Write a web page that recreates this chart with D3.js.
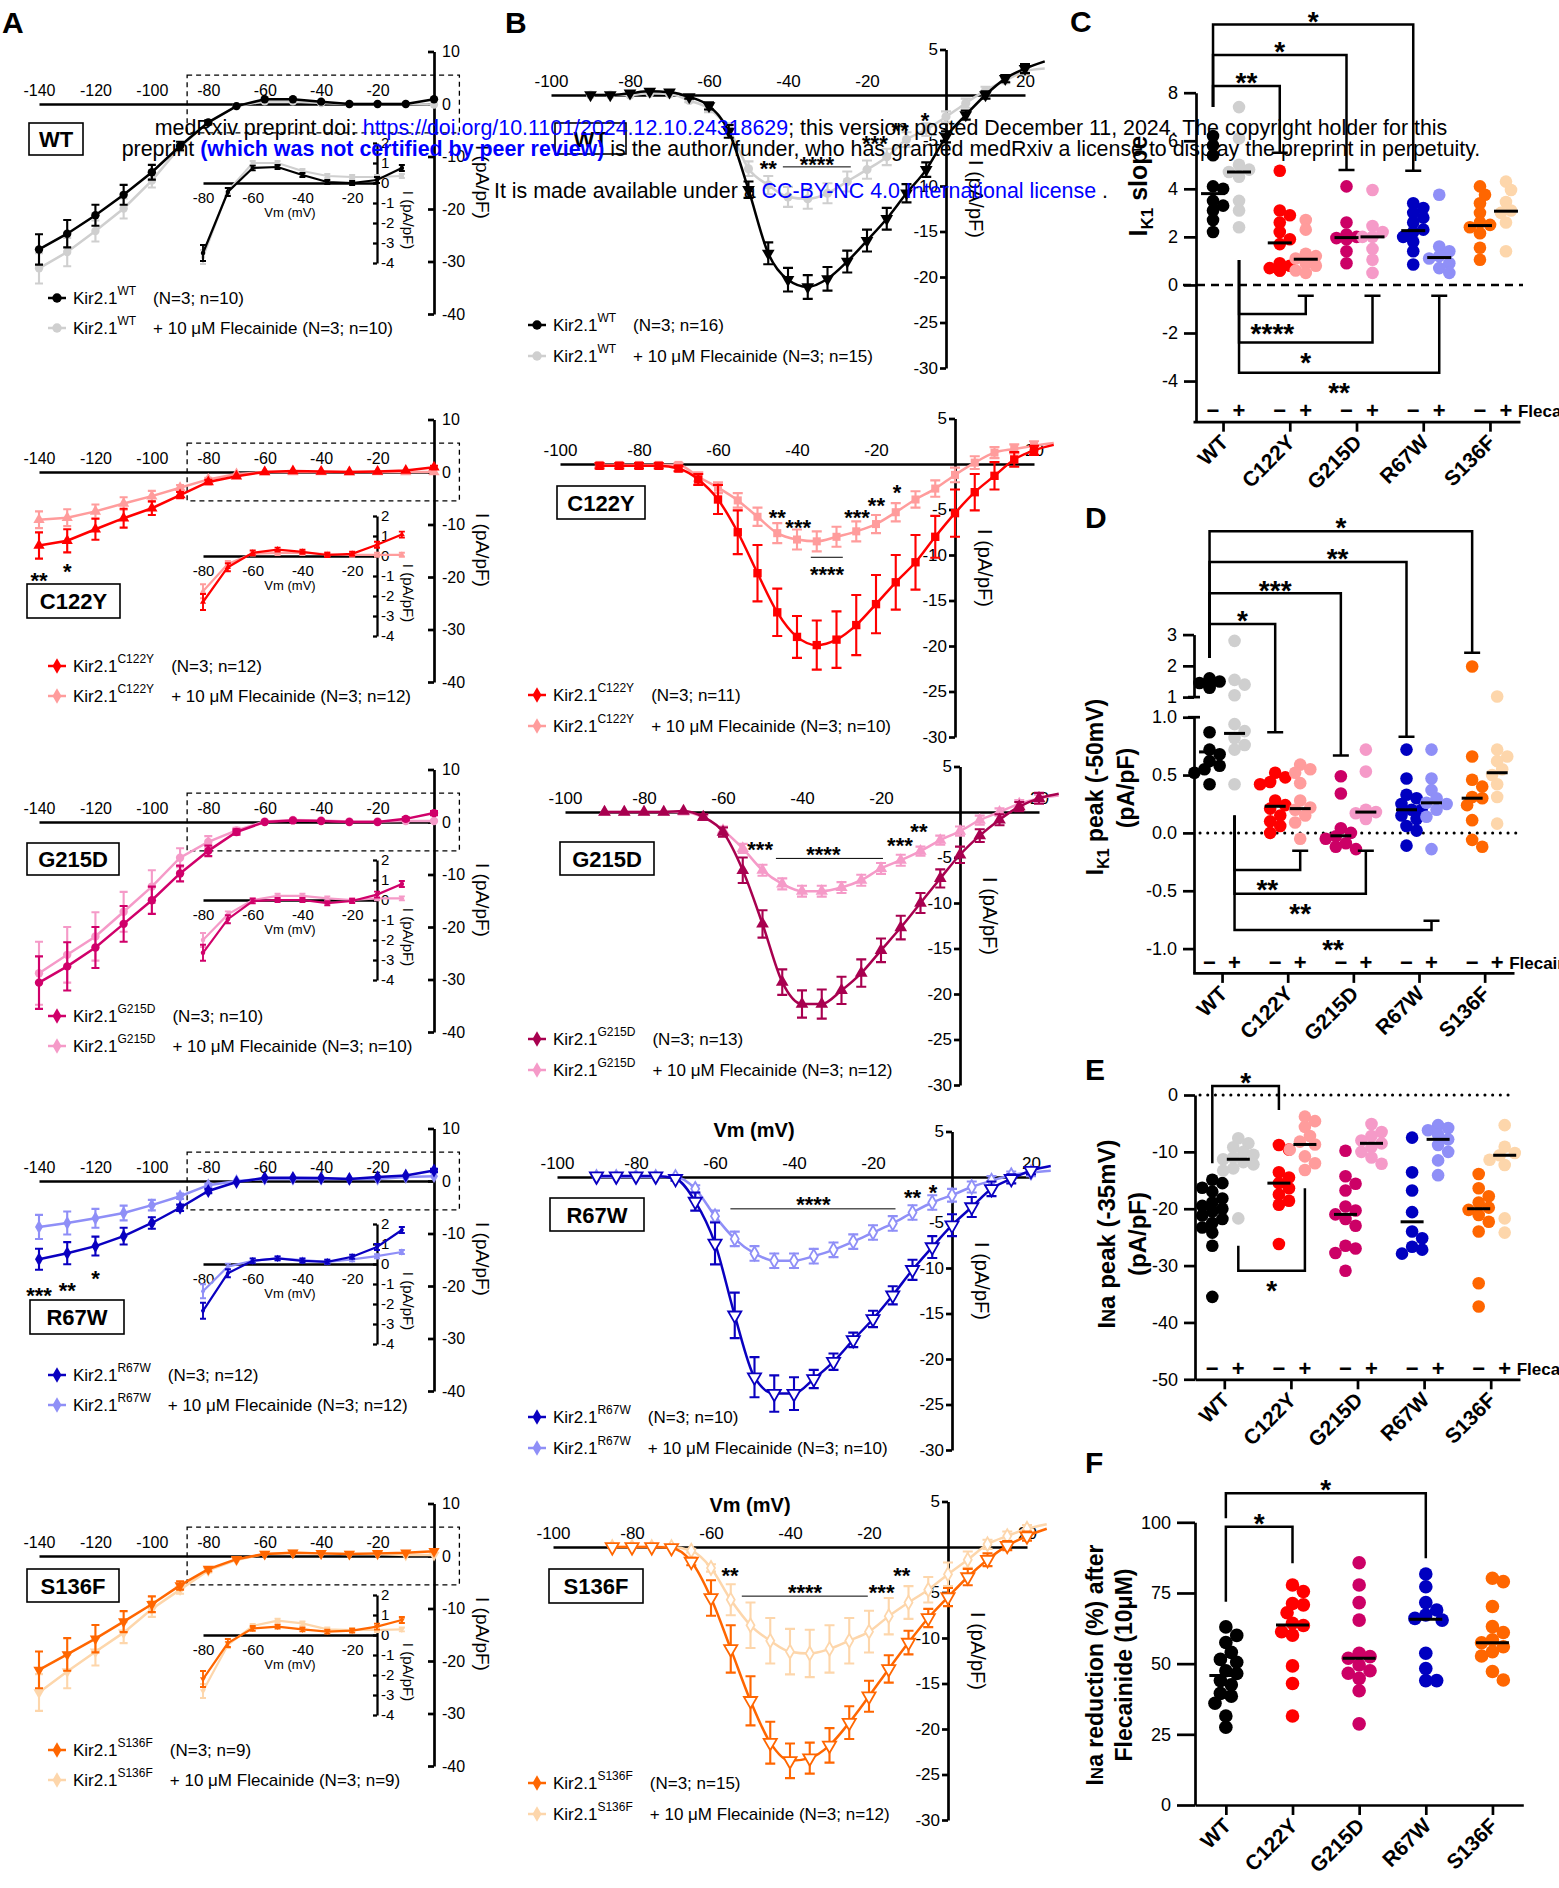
<!DOCTYPE html>
<html>
<head>
<meta charset="utf-8">
<script src="https://cdn.jsdelivr.net/npm/d3@7"></script>
<style>
  body { margin: 0; background: #fff; }
  svg { display: block; font-family: Arial, "Liberation Sans", sans-serif; }
</style>
</head>
<body>
<svg id="fig" width="1559" height="1888"></svg>
<script>
const FONT = 'Arial, "Liberation Sans", sans-serif';

// ---------- shared ----------
const mutants = ["WT", "C122Y", "G215D", "R67W", "S136F"];
const colMain  = ["#000000", "#ff0000", "#d0006a", "#0a00c0", "#ff6600"];
const colMainB = ["#000000", "#ff0000", "#a8004f", "#0a00c0", "#ff6600"];
const colFlec  = ["#cfcfcf", "#ff9c9c", "#f59ac8", "#8f8ff7", "#fdd6ab"];
const colDot   = ["#000000", "#ff0000", "#cc0066", "#0000c0", "#ff6600"];

// ---------- A: IK1 I-V (pA/pF), mean and SEM ----------
const vA = [-140, -130, -120, -110, -100, -90, -80, -70, -60, -50, -40, -30, -20, -10, 0];
const aWT   = [-27.7, -24.7, -21.2, -17.3, -13.0, -8.0, -3.5, -0.4, 0.9, 0.9, 0.45, 0, 0, 0, 0.9];
const aWTs  = [2.9, 2.6, 2.0, 1.9, 1.4, 0.8, 0.4, 0.2, 0.2, 0.2, 0.2, 0.1, 0.1, 0.1, 0.2];
const aWTf  = [-31.3, -28.2, -24.2, -19.9, -14.6, -8.2, -3.5, -0.4, 0.5, 0.5, 0.2, 0, 0, 0, -0.1];
const aWTfs = [2.9, 2.7, 2.0, 1.9, 1.3, 0.8, 0.4, 0.2, 0.2, 0.2, 0.2, 0.1, 0.1, 0.1, 0.2];
const aC    = [-14.0, -13.1, -10.9, -8.8, -6.9, -4.4, -1.9, -0.8, 0, 0.2, 0.1, 0, 0.1, 0.3, 0.9];
const aCs   = [2.5, 2.2, 2.0, 1.8, 1.3, 0.6, 0.4, 0.2, 0.1, 0.1, 0.1, 0.1, 0.1, 0.2, 0.3];
const aCf   = [-9.1, -8.7, -7.5, -6.0, -4.6, -3.0, -1.4, -0.4, 0, 0, 0, 0, 0, 0, 0];
const aCfs  = [1.6, 1.6, 1.3, 1.2, 1.0, 0.5, 0.3, 0.2, 0.1, 0.1, 0.1, 0.1, 0.1, 0.1, 0.1];
const aG    = [-30.6, -27.5, -23.9, -19.4, -14.9, -9.8, -5.5, -1.9, 0, 0.3, 0.2, 0, 0, 0.6, 1.7];
const aGs   = [5.0, 4.6, 3.9, 3.4, 2.6, 1.5, 1.0, 0.5, 0.2, 0.2, 0.2, 0.2, 0.2, 0.3, 0.4];
const aGf   = [-28.8, -25.3, -21.8, -17.1, -12.3, -6.8, -3.8, -1.6, 0.1, 0.4, 0.3, 0.1, 0.1, 0.2, 0.2];
const aGfs  = [6.0, 5.3, 4.6, 3.8, 3.1, 1.8, 1.1, 0.5, 0.2, 0.2, 0.2, 0.2, 0.2, 0.2, 0.2];
const aR    = [-14.9, -13.75, -12.4, -10.5, -8.0, -5.1, -1.9, -0.2, 0.6, 0.6, 0.55, 0.4, 0.75, 1.05, 2.0];
const aRs   = [2.0, 2.1, 1.8, 1.6, 1.1, 0.6, 0.4, 0.2, 0.1, 0.1, 0.1, 0.1, 0.1, 0.2, 0.3];
const aRf   = [-8.75, -8.0, -7.1, -6.1, -4.6, -2.9, -0.8, 0, 0.4, 0.4, 0.4, 0.4, 0.4, 0.75, 0.9];
const aRfs  = [2.3, 2.2, 1.8, 1.4, 1.0, 0.5, 0.3, 0.2, 0.1, 0.1, 0.1, 0.1, 0.1, 0.1, 0.2];
const aS    = [-21.7, -18.75, -15.75, -12.5, -9.2, -5.6, -2.5, -0.6, 0.4, 0.6, 0.5, 0.4, 0.5, 0.6, 0.9];
const aSs   = [3.5, 3.1, 2.6, 2.0, 1.5, 0.8, 0.4, 0.2, 0.1, 0.1, 0.1, 0.1, 0.1, 0.1, 0.2];
const aSf   = [-26, -22, -18.25, -14.6, -10.1, -6.4, -2.75, -0.75, 0.4, 0.6, 0.5, 0.4, 0.4, 0.2, 0.2];
const aSfs  = [3.5, 3.2, 2.6, 2.0, 1.5, 0.8, 0.4, 0.2, 0.1, 0.1, 0.1, 0.1, 0.1, 0.1, 0.2];

// insets (-80..0 mV)
const vIns = [-80, -70, -60, -50, -40, -30, -20, -10, 0];
const iWT  = [-3.5, -0.45, 0.75, 0.8, 0.4, 0.05, 0, 0.15, 0.75];
const iWTf = [-3.7, -0.4, 1.0, 1.0, 0.6, 0.35, 0.3, 0.3, 0.35];
const iC   = [-2.3, -0.56, 0.16, 0.32, 0.21, 0.05, 0.11, 0.56, 1.07];
const iCf  = [-1.76, -0.4, 0.12, 0.15, 0.15, 0.1, 0.06, 0.06, 0.06];
const iG   = [-2.64, -0.96, -0.05, 0, 0, -0.16, -0.05, 0.27, 0.8];
const iGf  = [-2.0, -0.72, 0, 0.21, 0.21, 0.08, 0, 0.08, 0.08];
const iR   = [-2.34, -0.46, 0.16, 0.28, 0.16, 0.11, 0.36, 0.85, 1.7];
const iRf  = [-1.36, -0.13, 0.16, 0.28, 0.2, 0.11, 0.23, 0.39, 0.6];
const iS   = [-2.2, -0.4, 0.33, 0.42, 0.28, 0.17, 0.22, 0.42, 0.75];
const iSf  = [-2.8, -0.5, 0.45, 0.72, 0.58, 0.28, 0.25, 0.25, 0.28];
const iSem  = [0.4, 0.2, 0.12, 0.1, 0.1, 0.1, 0.1, 0.15, 0.15];
const iSemF = [0.35, 0.15, 0.1, 0.1, 0.1, 0.1, 0.1, 0.1, 0.1];

// A significance (label, mV, pA/pF)
const starsA = [[], [["**", -140, -19.7], ["*", -130, -17.9]], [],
  [["***", -140, -20.8], ["**", -130, -19.8], ["*", -120, -17.5]], []];

// ---------- B: INa I-V ----------
const vB   = [-90, -85, -80, -75, -70, -65, -60, -55, -50, -45, -40, -35, -30, -25, -20, -15, -10, -5, 0, 5, 10, 15, 20];
const vB85 = [-85, -80, -75, -70, -65, -60, -55, -50, -45, -40, -35, -30, -25, -20, -15, -10, -5, 0, 5, 10, 15, 20];
const bWT   = [0, 0, 0.2, 0.4, 0.3, -0.2, -1.2, -4.0, -10.4, -17.4, -20.3, -21.1, -20.2, -18.3, -16.0, -13.6, -10.8, -8.2, -4.6, -2.2, 0, 1.8, 2.9];
const bWTs  = [0.1, 0.1, 0.1, 0.1, 0.1, 0.2, 0.4, 0.7, 0.9, 1.2, 1.3, 1.3, 1.3, 1.2, 1.2, 1.2, 1.0, 0.8, 0.6, 0.5, 0.4, 0.4, 0.5];
const bWTf  = [0, 0, 0, 0.2, 0.1, -0.6, -1.5, -3.7, -8.1, -9.9, -11.2, -11.4, -10.8, -9.5, -8.2, -6.8, -4.9, -3.8, -2.4, -0.9, 0.5, 1.6, 2.6];
const bWTfs = [0.1, 0.1, 0.1, 0.1, 0.1, 0.2, 0.4, 0.6, 0.8, 1.0, 1.1, 1.1, 1.1, 1.1, 1.0, 0.9, 0.8, 0.7, 0.6, 0.5, 0.4, 0.3, 0.3];
const bC    = [-0.2, -0.2, -0.2, -0.2, -0.5, -1.7, -3.9, -7.5, -12.0, -16.3, -19.0, -19.9, -19.3, -17.7, -15.4, -13.0, -10.8, -8.0, -5.4, -3.1, -1.3, 0.5, 1.5];
const bCs   = [0.3, 0.3, 0.3, 0.3, 0.3, 0.6, 1.6, 2.4, 3.1, 2.6, 2.3, 2.7, 3.1, 3.3, 3.2, 3.0, 3.0, 2.3, 2.6, 2.0, 1.5, 0.8, 0.5];
const bCf   = [-0.1, -0.1, -0.1, -0.1, -0.1, -1.4, -2.6, -4.0, -5.8, -7.6, -8.3, -8.5, -8.0, -7.4, -6.6, -5.3, -3.9, -2.7, -1.2, 0.15, 1.25, 1.65, 2.0];
const bCfs  = [0.2, 0.2, 0.2, 0.2, 0.2, 0.5, 0.6, 0.8, 1.0, 1.1, 1.1, 1.1, 1.1, 1.1, 1.0, 1.0, 0.9, 0.9, 0.8, 0.7, 0.6, 0.5, 0.5];
const bG    = [0, 0, 0, 0, 0.1, -0.55, -2.2, -6.4, -12.3, -18.7, -21.1, -21.1, -19.6, -17.7, -15.2, -12.7, -10.0, -7.3, -4.7, -2.6, -0.85, 0.6, 1.5];
const bGs   = [0.1, 0.1, 0.1, 0.1, 0.1, 0.3, 0.5, 1.4, 1.5, 1.4, 1.5, 1.6, 1.5, 1.5, 1.3, 1.3, 1.1, 1.0, 0.9, 0.7, 0.6, 0.5, 0.6];
const bGf   = [0, 0, 0, 0, 0, -0.6, -2.0, -4.0, -6.4, -7.9, -8.7, -8.7, -8.3, -7.5, -6.2, -5.3, -4.3, -3.1, -2.1, -0.9, 0, 0.9, 1.5];
const bGfs  = [0.1, 0.1, 0.1, 0.1, 0.1, 0.2, 0.4, 0.5, 0.6, 0.6, 0.6, 0.6, 0.6, 0.6, 0.6, 0.6, 0.5, 0.5, 0.5, 0.5, 0.4, 0.4, 0.4];
const bR    = [0.1, 0.1, 0.1, 0.1, -0.2, -2.7, -7.3, -15.2, -22.0, -23.8, -23.8, -22.2, -20.3, -17.9, -15.6, -13.0, -10.2, -7.7, -5.3, -3.3, -1.3, -0.2, 0.7];
const bRs   = [0.1, 0.1, 0.1, 0.1, 0.2, 1.0, 2.3, 2.5, 2.2, 2.0, 1.8, 1.0, 0.9, 0.8, 0.9, 1.0, 1.1, 1.2, 1.2, 1.1, 0.8, 0.5, 0.4];
const bRf   = [0, 0, 0, 0, 0, -1.3, -4.3, -6.8, -8.4, -9.2, -9.2, -8.7, -8.0, -7.1, -6.1, -5.1, -3.9, -2.8, -2.0, -1.1, -0.4, 0.2, 0.5];
const bRfs  = [0.1, 0.1, 0.1, 0.1, 0.1, 0.4, 0.6, 0.8, 0.8, 0.8, 0.8, 0.8, 0.8, 0.8, 0.8, 0.8, 0.8, 0.8, 0.7, 0.6, 0.5, 0.4, 0.4];
const bS    = [0, 0, 0, -0.1, -1.6, -5.6, -11.2, -16.9, -21.5, -23.5, -23.2, -21.8, -19.3, -16.4, -13.4, -10.5, -7.8, -5.5, -3.3, -1.4, 0.15, 1.2];
const bSs   = [0.1, 0.1, 0.1, 0.1, 0.4, 1.95, 2.6, 2.7, 2.3, 1.9, 1.7, 1.9, 1.8, 1.7, 1.5, 1.3, 1.0, 1.0, 0.9, 0.7, 0.5, 0.5];
const bSf   = [0, 0, 0, 0, -0.4, -2.3, -5.8, -8.6, -10.3, -11.5, -11.7, -11.2, -10.3, -9.3, -7.6, -6.1, -4.7, -3.0, -1.4, 0.3, 1.2, 2.0];
const bSfs  = [0.1, 0.1, 0.1, 0.1, 0.2, 0.4, 1.7, 2.5, 2.5, 2.5, 2.6, 2.6, 2.5, 2.3, 2.0, 1.8, 1.4, 1.3, 0.9, 0.5, 0.5, 0.4];
const bEnd  = [[3.7, 2.9], [2.1, 2.3], [2.0, 1.8], [1.2, 0.7], [2.0, 2.5]]; // fitted curve at +25 mV

// B significance: [label, mV, pA/pF] and bar [mV1, mV2, pA/pF]
const starsB = [
  [["**", -45, -7.5], ["****", -32.7, -7.1], ["***", -18, -4.7], ["**", -11.6, -3.3], ["*", -5.3, -2.2]],
  [["**", -45, -5.35], ["***", -39.7, -6.45], ["****", -32.4, -11.6], ["***", -24.8, -5.35], ["**", -19.9, -3.96], ["*", -14.7, -2.56]],
  [["***", -50.6, -3.5], ["****", -34.6, -4.1], ["***", -15.2, -3.1], ["**", -10.4, -1.6]],
  [["****", -35.1, -2.4], ["**", -10, -1.7], ["*", -4.8, -1.1]],
  [["**", -55.2, -2.6], ["****", -36.2, -4.4], ["***", -16.8, -4.4], ["**", -11.7, -2.6]]];
const barsB = [[-41.3, -24.1, -7.9], [-36.5, -28.4, -10.25], [-46.6, -19.5, -5.1], [-56.1, -14.3, -3.5], [-52.2, -20.3, -5.4]];

const nA = [[10, 10], [12, 12], [10, 10], [12, 12], [9, 9]];
const nB = [[16, 15], [11, 10], [13, 12], [10, 10], [15, 12]];

// ---------- C: IK1 slope ----------
const cNo = [
  [6.2, 5.8, 5.4, 4.1, 4.0, 3.5, 3.3, 3.1, 2.7, 2.2],
  [4.75, 3.1, 2.9, 2.6, 2.2, 1.9, 1.7, 0.9, 0.8, 0.7, 0.6, 0.6],
  [4.1, 2.6, 2.1, 2.0, 1.95, 1.9, 1.4, 0.9],
  [3.4, 3.2, 3.0, 2.8, 2.6, 2.3, 2.2, 2.0, 1.8, 1.4, 0.85],
  [4.1, 3.75, 3.4, 3.0, 2.6, 2.5, 2.4, 2.15, 1.55, 1.05]];
const cFl = [
  [7.4, 6.1, 5.0, 4.8, 4.7, 4.5, 3.5, 3.1, 2.4],
  [2.7, 2.3, 1.3, 1.2, 1.1, 1.05, 0.9, 0.8, 0.6, 0.5],
  [3.95, 2.45, 2.2, 2.0, 2.0, 1.5, 1.05, 0.5],
  [3.75, 1.6, 1.4, 1.2, 1.1, 0.9, 0.7, 0.5],
  [4.3, 3.95, 3.45, 3.1, 3.0, 2.6, 1.4]];
const cMedNo = [3.8, 1.75, 1.97, 2.26, 2.47];
const cMedFl = [4.7, 1.07, 2.0, 1.14, 3.07];
const cBr = [
  { a: [0, -1], b: [3, -1], ya: 7.41, lvl: 10.84, yb: 4.75, s: "*" },
  { a: [0, -1], b: [2, -1], ya: 7.41, lvl: 9.57, yb: 4.78, s: "*" },
  { a: [0, -1], b: [1, -1], ya: 7.41, lvl: 8.28, yb: 5.5, s: "**" },
  { a: [0, 1], b: [1, 1], ya: 1.04, lvl: -1.21, yb: -0.45, s: "****" },
  { a: [0, 1], b: [2, 1], ya: 1.04, lvl: -2.4, yb: -0.45, s: "*" },
  { a: [0, 1], b: [3, 1], ya: 1.04, lvl: -3.65, yb: -0.45, s: "**" }];

// ---------- D: IK1 peak at -50 mV ----------
const dNo = [
  [1.6, 1.5, 1.45, 1.35, 1.3, 0.87, 0.72, 0.68, 0.62, 0.58, 0.55, 0.52, 0.42],
  [0.52, 0.48, 0.44, 0.42, 0.28, 0.24, 0.21, 0.15, 0.1, 0.06, 0.0],
  [0.49, 0.34, 0.04, 0.0, -0.03, -0.05, -0.09, -0.12, -0.14],
  [0.72, 0.47, 0.33, 0.3, 0.25, 0.2, 0.2, 0.15, 0.12, 0.06, 0.02, -0.11],
  [1.98, 0.66, 0.46, 0.4, 0.31, 0.3, 0.24, 0.11, -0.06, -0.12]];
const dFl = [
  [2.8, 1.55, 1.4, 1.06, 0.94, 0.88, 0.82, 0.76, 0.72, 0.42],
  [0.59, 0.55, 0.52, 0.43, 0.28, 0.22, 0.2, 0.15, 0.09, -0.05],
  [0.72, 0.53, 0.2, 0.18, 0.17, 0.14, 0.12],
  [0.72, 0.47, 0.37, 0.3, 0.26, 0.25, 0.2, 0.14, -0.14],
  [1.02, 0.72, 0.66, 0.62, 0.55, 0.5, 0.42, 0.31, 0.08]];
const dMedNo = [0.70, 0.23, -0.025, 0.2, 0.3];
const dMedFl = [0.86, 0.21, 0.18, 0.26, 0.52];
const dBr = [
  { a: [0, -1], b: [4, -1], ya: 2.25, lvl: 6.31, yb: 2.42, s: "*" },
  { a: [0, -1], b: [3, -1], ya: 2.25, lvl: 5.32, yb: 0.83, s: "**", t: 0.65 },
  { a: [0, -1], b: [2, -1], ya: 2.25, lvl: 4.32, yb: 0.67, s: "***" },
  { a: [0, -1], b: [1, -1], ya: 2.25, lvl: 3.34, yb: 0.87, s: "*" },
  { a: [0, 1], b: [1, 1], ya: 0.15, lvl: -0.32, yb: -0.155, s: "**" },
  { a: [0, 1], b: [2, 1], ya: 0.15, lvl: -0.525, yb: -0.155, s: "**" },
  { a: [0, 1], b: [3, 1], ya: 0.15, lvl: -0.84, yb: -0.76, s: "**" }];

// ---------- E: INa peak at -35 mV ----------
const eNo = [
  [-14.9, -15.5, -16.3, -17.0, -18.2, -18.9, -19.5, -20.0, -20.5, -21.2, -21.8, -22.5, -23.3, -24.2, -26.5, -35.5],
  [-8.8, -9.6, -13.6, -14.5, -15.5, -16.4, -17.5, -18.6, -19.3, -26.2],
  [-9.8, -14.3, -15.6, -16.8, -19.6, -20.3, -21.0, -21.8, -23.0, -26.5, -27.0, -27.8, -30.9],
  [-7.5, -13.6, -16.8, -20.6, -24.0, -25.2, -26.7, -27.2, -27.9],
  [-13.9, -16.4, -17.8, -18.9, -19.8, -20.2, -21.1, -22.3, -24.0, -33.1, -37.2]];
const eFl = [
  [-7.6, -8.5, -9.2, -10.0, -10.5, -11.0, -11.3, -11.8, -12.2, -12.9, -13.3, -21.7],
  [-3.8, -4.6, -5.6, -7.2, -8.2, -8.7, -9.6, -10.8, -12.0, -13.2],
  [-5.1, -6.5, -7.2, -8.0, -8.5, -9.1, -10.0, -11.0, -12.1],
  [-5.3, -5.8, -6.2, -7.0, -7.8, -8.8, -10.0, -11.5, -14.1],
  [-5.3, -9.1, -10.2, -10.6, -11.4, -12.3, -21.7, -24.2]];
const eMedNo = [-20.0, -15.5, -21.0, -22.3, -20.0];
const eMedFl = [-11.3, -8.7, -8.5, -7.8, -10.6];
const eBr = [
  { a: [0, -1], b: [1, -1], ya: -12, lvl: 1.58, yb: -2.64, s: "*" },
  { a: [0, 1], b: [1, 1], ya: -26.5, lvl: -30.9, yb: -16.4, s: "*" }];

// ---------- F: INa reduction (%) ----------
const fRed = [
  [63, 60, 57.5, 54, 51.5, 50.5, 47.5, 46.5, 44, 42.5, 39.5, 38.5, 36, 31.5, 27.5],
  [77.8, 75.5, 71.3, 70.8, 68, 64.3, 63.5, 61.3, 60.1, 49.2, 43, 31.5],
  [85.7, 77.8, 71.6, 65.4, 53.7, 52.5, 51.9, 49.5, 47.5, 46.6, 44.8, 40.4, 28.7],
  [81.7, 77.2, 71.6, 69, 67.2, 66, 65.4, 53.7, 48.3, 44.0, 44.0],
  [80.2, 79, 70.2, 63.1, 61, 58.4, 57.4, 56, 54.2, 52.7, 47.2, 44.2]];
const fMed = [45.8, 63.7, 51.9, 65.7, 57.4];
const fBr = [
  { a: [0, 0], b: [1, 0], ya: 71.9, lvl: 98.4, yb: 85.5, s: "*" },
  { a: [0, 0], b: [3, 0], ya: 101.4, lvl: 110.3, yb: 87.3, s: "*" }];

// ---------- layout ----------
const rowA = [104, 472, 822, 1181, 1556];
const rowIns = [183, 556, 900, 1264, 1635];
const rowB = [95, 464, 812, 1177, 1547];
const axB = [946, 955, 960, 952, 948];
const boxA = [[29, 123, 54, 32], [27, 584, 93, 34], [27, 843, 92, 32], [30, 1300, 94, 34], [27, 1569, 92, 33]];
const boxB = [[555, 123, 71, 31], [557, 486, 88, 33], [560, 842, 94, 33], [550, 1198, 94, 33], [549, 1569, 94, 34]];
const legB = [230, 231, 227, 240, 236];
const vmTitleB = [null, null, null, 40, 35];

const svg = d3.select("#fig");
const SYM = { circle: d3.symbolCircle, tri: d3.symbolTriangle, down: d3.symbolTriangle, square: d3.symbolSquare, diamond: d3.symbolDiamond };

function styleAxis(a, fs, w) {
  a.attr("font-family", FONT).attr("font-size", fs);
  a.selectAll("path, line").attr("stroke", "#000").attr("stroke-width", w || 2.7);
  a.selectAll("text").attr("fill", "#000");
}
function star(g, cx, cy, s, fs) {
  g.append("text").attr("x", cx).attr("y", cy + fs * 0.58).attr("text-anchor", "middle")
    .attr("font-size", fs).attr("font-weight", "bold").text(s);
}
function series(g, xs, vals, sems, x, y, col, shape, size, lw, cap, open, curve, endPt) {
  const pts = xs.map((v, k) => [x(v), y(vals[k])]);
  if (endPt) pts.push([x(endPt[0]), y(endPt[1])]);
  g.append("path").attr("d", d3.line().curve(curve || d3.curveLinear)(pts))
    .attr("fill", "none").attr("stroke", col).attr("stroke-width", lw);
  xs.forEach((v, k) => {
    const y1 = y(vals[k] + sems[k]), y2 = y(vals[k] - sems[k]), xx = x(v);
    if (Math.abs(y2 - y1) < 3) return;
    g.append("path").attr("d", `M${xx},${y1}V${y2}M${xx - cap},${y1}H${xx + cap}M${xx - cap},${y2}H${xx + cap}`)
      .attr("fill", "none").attr("stroke", col).attr("stroke-width", lw * 0.85);
  });
  const sym = d3.symbol().type(SYM[shape]).size(size);
  xs.forEach((v, k) => {
    g.append("path").attr("d", sym())
      .attr("transform", `translate(${x(v)},${y(vals[k])})${shape === "down" ? " rotate(180)" : ""}`)
      .attr("fill", open ? "#fff" : col).attr("stroke", col).attr("stroke-width", open ? 1.8 : 0);
  });
}
function legendRow(g, x, y, col, shape, name, rest, dx) {
  g.append("line").attr("x1", x - 9).attr("x2", x + 9).attr("y1", y).attr("y2", y).attr("stroke", col).attr("stroke-width", 2.5);
  g.append("path").attr("d", d3.symbol().type(SYM[shape]).size(70)()).attr("transform", `translate(${x},${y})`).attr("fill", col);
  const t = g.append("text").attr("x", x + 16).attr("y", y + 6).attr("font-size", 17);
  t.append("tspan").text("Kir2.1");
  t.append("tspan").attr("dy", -9).attr("font-size", 12).text(name);
  t.append("tspan").attr("dy", 9).attr("dx", dx).text(rest);
}
function box(g, r, s) {
  g.append("rect").attr("x", r[0]).attr("y", r[1]).attr("width", r[2]).attr("height", r[3])
    .attr("fill", "none").attr("stroke", "#000").attr("stroke-width", 1.6);
  g.append("text").attr("x", r[0] + r[2] / 2).attr("y", r[1] + r[3] / 2 + 8).attr("text-anchor", "middle")
    .attr("font-size", 22).attr("font-weight", "bold").text(s);
}
function yLabelRot(g, x, y, deg, s, fs, bold) {
  return g.append("text").attr("x", x).attr("y", y).attr("text-anchor", "middle").attr("font-size", fs)
    .attr("font-weight", bold ? "bold" : null)
    .attr("transform", `rotate(${deg},${x},${y})`).text(s);
}

// ---------- panel A ----------
const aMain = [aWT, aC, aG, aR, aS], aMainS = [aWTs, aCs, aGs, aRs, aSs];
const aFl = [aWTf, aCf, aGf, aRf, aSf], aFlS = [aWTfs, aCfs, aGfs, aRfs, aSfs];
const iMain = [iWT, iC, iG, iR, iS], iFl = [iWTf, iCf, iGf, iRf, iSf];
const shapeA = ["circle", "tri", "circle", "diamond", "down"];

mutants.forEach((m, i) => {
  const g = svg.append("g");
  const y0 = rowA[i];
  const x = d3.scaleLinear().domain([-140, 0]).range([39, 434]);
  const y = d3.scaleLinear().domain([10, -40]).range([y0 - 52.5, y0 + 210]);

  g.append("rect").attr("x", x(-87.5)).attr("y", y(5.5)).attr("width", x(9) - x(-87.5)).attr("height", y(-5.5) - y(5.5))
    .attr("fill", "none").attr("stroke", "#000").attr("stroke-width", 1.3).attr("stroke-dasharray", "5,4");

  const xa = g.append("g").attr("transform", `translate(0,${y(0)})`)
    .call(d3.axisTop(x).tickValues([-140, -120, -100, -80, -60, -40, -20]).tickFormat(d => String(d))
      .tickSize(0).tickSizeOuter(0).tickPadding(8));
  styleAxis(xa, 16);
  const ya = g.append("g").attr("transform", `translate(${x(0)},0)`)
    .call(d3.axisRight(y).tickValues([10, 0, -10, -20, -30, -40]).tickFormat(d => String(d))
      .tickSize(-6).tickSizeOuter(0).tickPadding(8));
  styleAxis(ya, 16);
  yLabelRot(g, 476, y0 + 78, 90, "I (pA/pF)", 19);

  series(g, vA, aFl[i], aFlS[i], x, y, colFlec[i], shapeA[i], 55, 2.5, 4, false);
  series(g, vA, aMain[i], aMainS[i], x, y, colMain[i], shapeA[i], 55, 2.5, 4, false);

  starsA[i].forEach(s => star(g, x(s[1]), y(s[2]), s[0], 22));

  // inset
  const iy0 = rowIns[i];
  const xi = d3.scaleLinear().domain([-80, -10]).range([203, 377]);
  const yi = d3.scaleLinear().domain([2, -4]).range([iy0 - 40, iy0 + 80]);
  const ixa = g.append("g").attr("transform", `translate(0,${iy0})`)
    .call(d3.axisBottom(xi).tickValues([-80, -60, -40, -20]).tickFormat(d => String(d)).tickSize(0).tickSizeOuter(0).tickPadding(9));
  styleAxis(ixa, 15, 2.3);
  const iya = g.append("g").attr("transform", `translate(${xi(-10)},0)`)
    .call(d3.axisRight(yi).tickValues([2, 1, 0, -1, -2, -3, -4]).tickFormat(d => String(d)).tickSize(-4).tickSizeOuter(0).tickPadding(4));
  styleAxis(iya, 15, 2.3);
  g.append("text").attr("x", xi(-45)).attr("y", iy0 + 34).attr("text-anchor", "middle").attr("font-size", 13).text("Vm (mV)");
  yLabelRot(g, xi(-10) + 26, iy0 + 37, 90, "I (pA/pF)", 15);
  series(g, vIns, iFl[i], iSemF, xi, yi, colFlec[i], shapeA[i], 16, 2.2, 3, false);
  series(g, vIns, iMain[i], iSem, xi, yi, colMain[i], shapeA[i], 16, 2.2, 3, false);

  box(g, boxA[i], m);
  legendRow(g, 57, y0 + 194, colMain[i], i === 0 ? "circle" : "diamond", m, `(N=3; n=${nA[i][0]})`, 17);
  legendRow(g, 57, y0 + 224, colFlec[i], i === 0 ? "circle" : "diamond", m, `+ 10 μM Flecainide (N=3; n=${nA[i][1]})`, 17);
});

// ---------- panel B ----------
const bMain = [bWT, bC, bG, bR, bS], bMainS = [bWTs, bCs, bGs, bRs, bSs];
const bFl = [bWTf, bCf, bGf, bRf, bSf], bFlS = [bWTfs, bCfs, bGfs, bRfs, bSfs];
const shapeB = ["down", "square", "tri", "down", "down"];
const shapeBf = ["circle", "square", "tri", "diamond", "diamond"];
const openB = [false, false, false, true, true];

mutants.forEach((m, i) => {
  const g = svg.append("g");
  const y0 = rowB[i], ax = axB[i];
  const x = d3.scaleLinear().domain([-100, 20]).range([ax - 395, ax + 79]);
  const y = d3.scaleLinear().domain([5, -30]).range([y0 - 45.5, y0 + 273]);
  const volts = i === 4 ? vB85 : vB;

  const xa = g.append("g").attr("transform", `translate(0,${y(0)})`)
    .call(d3.axisTop(x).tickValues([-100, -80, -60, -40, -20, 20]).tickFormat(d => String(d)).tickSize(0).tickSizeOuter(0).tickPadding(8));
  styleAxis(xa, 17);
  const ya = g.append("g").attr("transform", `translate(${x(0)},0)`)
    .call(d3.axisLeft(y).tickValues([5, -5, -10, -15, -20, -25, -30]).tickFormat(d => String(d)).tickSize(6).tickSizeOuter(0).tickPadding(2));
  styleAxis(ya, 17);
  yLabelRot(g, ax + 23, y0 + 104, 90, "I (pA/pF)", 20);
  if (vmTitleB[i] != null) {
    g.append("text").attr("x", x(-40) - 40).attr("y", y0 - vmTitleB[i]).attr("text-anchor", "middle")
      .attr("font-size", 20).attr("font-weight", "bold").text("Vm (mV)");
  }

  series(g, volts, bFl[i], bFlS[i], x, y, colFlec[i], shapeBf[i], openB[i] ? 55 : 65, 2.5, 5, openB[i], d3.curveMonotoneX, [25, bEnd[i][1]]);
  series(g, volts, bMain[i], bMainS[i], x, y, colMainB[i], shapeB[i], openB[i] ? 75 : 70, 2.5, 5, openB[i], d3.curveMonotoneX, [25, bEnd[i][0]]);

  starsB[i].forEach(s => star(g, x(s[1]), y(s[2]), s[0], 22));
  const br = barsB[i];
  g.append("line").attr("x1", x(br[0])).attr("x2", x(br[1])).attr("y1", y(br[2])).attr("y2", y(br[2]))
    .attr("stroke", "#000").attr("stroke-width", 1);

  box(g, boxB[i], m);
  legendRow(g, 537, y0 + legB[i], colMainB[i], i === 0 ? "circle" : "diamond", m, `(N=3; n=${nB[i][0]})`, 17);
  legendRow(g, 537, y0 + legB[i] + 31, colFlec[i], i === 0 ? "circle" : "diamond", m, `+ 10 μM Flecainide (N=3; n=${nB[i][1]})`, 17);
});

// ---------- scatter helpers ----------
function swarm(vals, yf, cx, r) {
  const pts = vals.map(v => ({ v, py: yf(v) })).sort((a, b) => a.py - b.py);
  const placed = [];
  for (const p of pts) {
    let px = cx;
    for (const k of [0, 1, -1, 2, -2, 3, -3]) {
      const c = cx + k * r * 0.8;
      if (placed.every(q => Math.hypot(q.px - c, q.py - p.py) >= r * 1.5)) { px = c; break; }
    }
    p.px = px; placed.push(p);
  }
  return placed;
}
function dots(g, vals, yf, cx, r, col) {
  swarm(vals, yf, cx, r).forEach(p => g.append("circle").attr("cx", p.px).attr("cy", p.py).attr("r", r).attr("fill", col));
}
function medLine(g, m, yf, cx, w) {
  g.append("line").attr("x1", cx - w / 2).attr("x2", cx + w / 2).attr("y1", yf(m)).attr("y2", yf(m))
    .attr("stroke", "#000").attr("stroke-width", 3);
}
function brackets(g, list, gx, yf, cap) {
  list.forEach(b => {
    const xa = gx(b.a), xb = gx(b.b), ya = yf(b.ya), yl = yf(b.lvl), yb = yf(b.yb);
    let d = `M${xa},${ya}V${yl}H${xb}V${yb}`;
    if (cap) d += `M${xb - 8},${yb}H${xb + 8}`;
    g.append("path").attr("d", d).attr("fill", "none").attr("stroke", "#000").attr("stroke-width", 2.5);
    const t = b.t == null ? 0.5 : b.t;
    star(g, xa + (xb - xa) * t, yl < ya ? yl - 10 : yl + 13, b.s, 28);
  });
}
function xAxisCat(g, y0, xs, fs) {
  const a = g.append("g").attr("transform", `translate(0,${y0})`)
    .call(d3.axisBottom(xs).tickSize(10).tickSizeOuter(0));
  styleAxis(a, fs);
  a.selectAll("text").attr("font-weight", "bold").attr("text-anchor", "end").attr("dy", null)
    .attr("x", 6).attr("y", 22).attr("transform", "rotate(-45,6,22)");
}
function flecRow(g, y, gx) {
  mutants.forEach((m, i) => {
    g.append("text").attr("x", gx([i, -1])).attr("y", y + 8).attr("text-anchor", "middle").attr("font-size", 22).attr("font-weight", "bold").text("−");
    g.append("text").attr("x", gx([i, 1])).attr("y", y + 8).attr("text-anchor", "middle").attr("font-size", 22).attr("font-weight", "bold").text("+");
  });
  g.append("text").attr("x", gx([4, 1]) + 12).attr("y", y + 7).attr("font-size", 17).attr("font-weight", "bold").text("Flecainide");
}
function twoGroups(g, no, fl, mNo, mFl, yf, gx, r, w) {
  mutants.forEach((m, i) => {
    dots(g, no[i], yf, gx([i, -1]), r, colDot[i]);
    dots(g, fl[i], yf, gx([i, 1]), r, colFlec[i]);
    medLine(g, mNo[i], yf, gx([i, -1]), w);
    medLine(g, mFl[i], yf, gx([i, 1]), w);
  });
}
function panelLetter(x, y, s) {
  svg.append("text").attr("x", x).attr("y", y).attr("font-size", 30).attr("font-weight", "bold").text(s);
}

// ---------- panel C ----------
{
  const g = svg.append("g");
  const xs = d3.scalePoint().domain(mutants).range([1193, 1520]).padding(0.45);
  const gx = c => xs(mutants[c[0]]) + (c[1] < 0 ? -10 : c[1] > 0 ? 16 : 0);
  const y = d3.scaleLinear().domain([-5.65, 8]).range([420.7, 92.7]);
  g.append("line").attr("x1", 1183).attr("x2", 1523).attr("y1", y(0)).attr("y2", y(0))
    .attr("stroke", "#000").attr("stroke-width", 2.5).attr("stroke-dasharray", "8,6");
  const ya = g.append("g").attr("transform", "translate(1196,0)")
    .call(d3.axisLeft(y).tickValues([-4, -2, 0, 2, 4, 6, 8]).tickFormat(d => String(d)).tickSize(12).tickSizeOuter(0).tickPadding(6));
  styleAxis(ya, 18);
  xAxisCat(g, 421.7, xs, 21);
  twoGroups(g, cNo, cFl, cMedNo, cMedFl, y, gx, 6.3, 24);
  brackets(g, cBr, gx, y, true);
  flecRow(g, 410, gx);
  const t = g.append("text").attr("x", 1147).attr("y", 186).attr("text-anchor", "middle").attr("font-size", 25)
    .attr("font-weight", "bold").attr("transform", "rotate(-90,1147,186)");
  t.append("tspan").text("I");
  t.append("tspan").attr("font-size", 17).attr("dy", 6).text("K1");
  t.append("tspan").attr("dy", -6).text(" slope");
}

// ---------- panel D (broken y axis) ----------
{
  const g = svg.append("g");
  const xs = d3.scalePoint().domain(mutants).range([1192.7, 1514]).padding(0.447);
  const gx = c => xs(mutants[c[0]]) + (c[1] < 0 ? -12.5 : c[1] > 0 ? 12.5 : 0);
  const yLo = d3.scaleLinear().domain([-1.21, 1.0]).range([972.9, 717.2]);
  const yUp = d3.scaleLinear().domain([1, 3]).range([697.1, 634.6]);
  const y = v => v > 1 ? yUp(v) : yLo(v);
  g.append("line").attr("x1", 1200).attr("x2", 1517).attr("y1", yLo(0)).attr("y2", yLo(0))
    .attr("stroke", "#000").attr("stroke-width", 3).attr("stroke-linecap", "round").attr("stroke-dasharray", "0.1,7.6");
  const a1 = g.append("g").attr("transform", "translate(1194,0)")
    .call(d3.axisLeft(yLo).tickValues([1, 0.5, 0, -0.5, -1]).tickFormat(d => d.toFixed(1)).tickSize(11).tickSizeOuter(0).tickPadding(6));
  styleAxis(a1, 18);
  const a2 = g.append("g").attr("transform", "translate(1194,0)")
    .call(d3.axisLeft(yUp).tickValues([3, 2, 1]).tickFormat(d => String(d)).tickSize(11).tickSizeOuter(0).tickPadding(6));
  styleAxis(a2, 18);
  [yUp(1), yLo(1)].forEach(v => g.append("line").attr("x1", 1188).attr("x2", 1200).attr("y1", v).attr("y2", v)
    .attr("stroke", "#000").attr("stroke-width", 2.7));
  xAxisCat(g, 972.9, xs, 21);
  twoGroups(g, dNo, dFl, dMedNo, dMedFl, y, gx, 6.3, 21);
  brackets(g, dBr, gx, y, true);
  flecRow(g, 962, gx);
  const t = g.append("text").attr("x", 1103).attr("y", 787).attr("text-anchor", "middle").attr("font-size", 23)
    .attr("font-weight", "bold").attr("transform", "rotate(-90,1103,787)");
  t.append("tspan").text("I");
  t.append("tspan").attr("font-size", 16).attr("dy", 6).text("K1");
  t.append("tspan").attr("dy", -6).text(" peak (-50mV)");
  yLabelRot(g, 1134, 788, -90, "(pA/pF)", 23, true);
}

// ---------- panel E ----------
{
  const g = svg.append("g");
  const xs = d3.scalePoint().domain(mutants).range([1195, 1520]).padding(0.44);
  const gx = c => xs(mutants[c[0]]) + (c[1] < 0 ? -12 : c[1] > 0 ? 14 : 0);
  const y = d3.scaleLinear().domain([-50, 0]).range([1379.3, 1095]);
  g.append("line").attr("x1", 1200).attr("x2", 1513).attr("y1", y(0)).attr("y2", y(0))
    .attr("stroke", "#000").attr("stroke-width", 3).attr("stroke-linecap", "round").attr("stroke-dasharray", "0.1,7.6");
  const ya = g.append("g").attr("transform", "translate(1195,0)")
    .call(d3.axisLeft(y).tickValues([0, -10, -20, -30, -40, -50]).tickFormat(d => String(d)).tickSize(11).tickSizeOuter(0).tickPadding(6));
  styleAxis(ya, 18);
  xAxisCat(g, 1379.3, xs, 21);
  twoGroups(g, eNo, eFl, eMedNo, eMedFl, y, gx, 6.3, 23);
  brackets(g, eBr, gx, y, false);
  flecRow(g, 1368.3, gx);
  const t = g.append("text").attr("x", 1115).attr("y", 1234).attr("text-anchor", "middle").attr("font-size", 24)
    .attr("font-weight", "bold").attr("transform", "rotate(-90,1115,1234)");
  t.append("tspan").text("I");
  t.append("tspan").attr("font-size", 18).text("N");
  t.append("tspan").text("a peak (-35mV)");
  yLabelRot(g, 1146, 1234, -90, "(pA/pF)", 24, true);
}

// ---------- panel F ----------
{
  const g = svg.append("g");
  const xs = d3.scalePoint().domain(mutants).range([1195, 1523.3]).padding(0.463);
  const gx = c => xs(mutants[c[0]]);
  const y = d3.scaleLinear().domain([0, 100]).range([1805, 1522.3]);
  const ya = g.append("g").attr("transform", "translate(1195,0)")
    .call(d3.axisLeft(y).tickValues([0, 25, 50, 75, 100]).tickFormat(d => String(d)).tickSize(18).tickSizeOuter(0).tickPadding(6));
  styleAxis(ya, 18);
  xAxisCat(g, 1805, xs, 21);
  mutants.forEach((m, i) => {
    dots(g, fRed[i], y, gx([i, 0]), 6.8, colDot[i]);
    medLine(g, fMed[i], y, gx([i, 0]), 33);
  });
  brackets(g, fBr, gx, y, false);
  const t = g.append("text").attr("x", 1103).attr("y", 1665).attr("text-anchor", "middle").attr("font-size", 23)
    .attr("font-weight", "bold").attr("transform", "rotate(-90,1103,1665)");
  t.append("tspan").text("I");
  t.append("tspan").attr("font-size", 17).text("N");
  t.append("tspan").text("a reduction (%) after");
  yLabelRot(g, 1132, 1665, -90, "Flecainide (10μM)", 23, true);
}

panelLetter(2, 33, "A");
panelLetter(505, 33, "B");
panelLetter(1070, 32, "C");
panelLetter(1085, 528, "D");
panelLetter(1085, 1080, "E");
panelLetter(1085, 1473, "F");

// ---------- medRxiv overlay ----------
{
  const g = svg.append("g").attr("font-size", 21.4);
  const l1 = g.append("text").attr("x", 801).attr("y", 135).attr("text-anchor", "middle");
  l1.append("tspan").text("medRxiv preprint doi: ");
  l1.append("tspan").attr("fill", "#0000ff").text("https://doi.org/10.1101/2024.12.10.24318629");
  l1.append("tspan").text("; this version posted December 11, 2024. The copyright holder for this");
  const l2 = g.append("text").attr("x", 801).attr("y", 156).attr("text-anchor", "middle");
  l2.append("tspan").text("preprint ");
  l2.append("tspan").attr("fill", "#0000ff").attr("font-weight", "bold").text("(which was not certified by peer review)");
  l2.append("tspan").text(" is the author/funder, who has granted medRxiv a license to display the preprint in perpetuity.");
  const l3 = g.append("text").attr("x", 801).attr("y", 198).attr("text-anchor", "middle");
  l3.append("tspan").text("It is made available under a ");
  l3.append("tspan").attr("fill", "#0000ff").text("CC-BY-NC 4.0 International license");
  l3.append("tspan").text(" .");
}
</script>
</body>
</html>
